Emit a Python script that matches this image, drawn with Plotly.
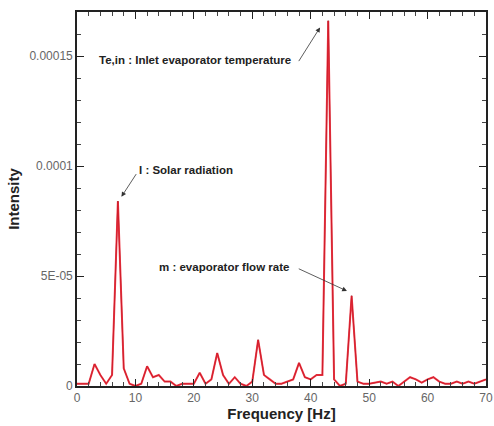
import plotly.graph_objects as go

freq_hz = list(range(0, 71))
intensity_e5 = [0.1, 0.1, 0.1, 1.0, 0.5, 0.1, 0.5, 8.4, 0.8, 0.1,
                0.0, 0.1, 0.9, 0.4, 0.5, 0.2, 0.2, 0.0, 0.1, 0.1,
                0.1, 0.6, 0.1, 0.3, 1.5, 0.5, 0.1, 0.4, 0.1, 0.0,
                0.2, 2.1, 0.5, 0.3, 0.1, 0.1, 0.2, 0.3, 1.05, 0.4,
                0.3, 0.5, 0.5, 16.6, 0.3, 0.0, 0.1, 4.1, 0.2, 0.1,
                0.1, 0.15, 0.2, 0.1, 0.2, 0.0, 0.2, 0.4, 0.3, 0.15,
                0.3, 0.4, 0.2, 0.1, 0.1, 0.2, 0.1, 0.2, 0.1, 0.2, 0.3]
intensity = [v * 1e-5 for v in intensity_e5]

y_tickvals = [0, 5e-5, 1e-4, 1.5e-4]
y_ticktext = ["0", "5E-05", "0.0001", "0.00015"]
x_tickvals = [0, 10, 20, 30, 40, 50, 60, 70]

fig = go.Figure()
fig.add_trace(go.Scatter(x=freq_hz, y=intensity, mode="lines",
                         line=dict(color="#3a1a1a", width=1.0), showlegend=False))
fig.add_trace(go.Scatter(x=freq_hz, y=intensity, mode="lines", opacity=0.85,
                         line=dict(color="#ec1c2c", width=2.0), showlegend=False))

afont = dict(family="Liberation Sans, Arial", size=11.5, color="#222")
ann = [
    dict(x=3.4, y=1.48e-4, text="<b>Te,in : Inlet evaporator temperature</b>", xanchor="left"),
    dict(x=10.3, y=9.8e-5, text="<b>I : Solar radiation</b>", xanchor="left"),
    dict(x=13.7, y=5.4e-5, text="<b>m : evaporator flow rate</b>", xanchor="left"),
]
for a in ann:
    fig.add_annotation(x=a["x"], y=a["y"], text=a["text"], xanchor=a["xanchor"],
                       yanchor="middle", showarrow=False, font=afont)

arrows = [
    (37.8, 1.47e-4, 41.6, 1.63e-4),
    (10.3, 9.7e-5, 7.6, 8.6e-5),
    (37.7, 5.36e-5, 46.2, 4.32e-5),
]
for tx, ty, hx, hy in arrows:
    fig.add_annotation(x=hx, y=hy, ax=tx, ay=ty, axref="x", ayref="y", xref="x", yref="y",
                       text="", showarrow=True, arrowhead=2, arrowsize=1.2,
                       arrowwidth=0.8, arrowcolor="#333")

fig.update_layout(
    width=494, height=426,
    margin=dict(l=77, r=8, t=12, b=40),
    plot_bgcolor="white", paper_bgcolor="white",
    font=dict(family="Liberation Sans, Arial", size=12, color="#555"),
)
fig.update_xaxes(range=[0, 70], tickvals=x_tickvals, ticks="inside", ticklen=7, tickwidth=1.2,
                 tickcolor="#222", showline=True, linecolor="#222", linewidth=1.6, mirror="ticks",
                 showgrid=False, zeroline=False, automargin=False,
                 minor=dict(dtick=2, ticks="inside", ticklen=4, tickcolor="#444", showgrid=False),
                 title=dict(text="<b>Frequency [Hz]</b>", font=dict(size=15, color="#222"), standoff=2),
                 tickfont=dict(size=12, color="#666"))
fig.update_yaxes(range=[0, 1.7e-4], tickvals=y_tickvals, ticktext=y_ticktext, ticks="inside", ticklen=7,
                 tickwidth=1.2, tickcolor="#222", showline=True, linecolor="#222", linewidth=1.6,
                 mirror="ticks", showgrid=False, zeroline=False, automargin=False,
                 minor=dict(dtick=1e-5, tick0=0, ticks="inside", ticklen=4, tickcolor="#444", showgrid=False),
                 title=dict(text="<b>Intensity</b>", font=dict(size=15, color="#222"), standoff=6),
                 tickfont=dict(size=12, color="#666"))

fig.write_html("out.html", config={"displayModeBar": False},
               post_script="document.body.style.margin='0';document.body.style.overflow='hidden';")
